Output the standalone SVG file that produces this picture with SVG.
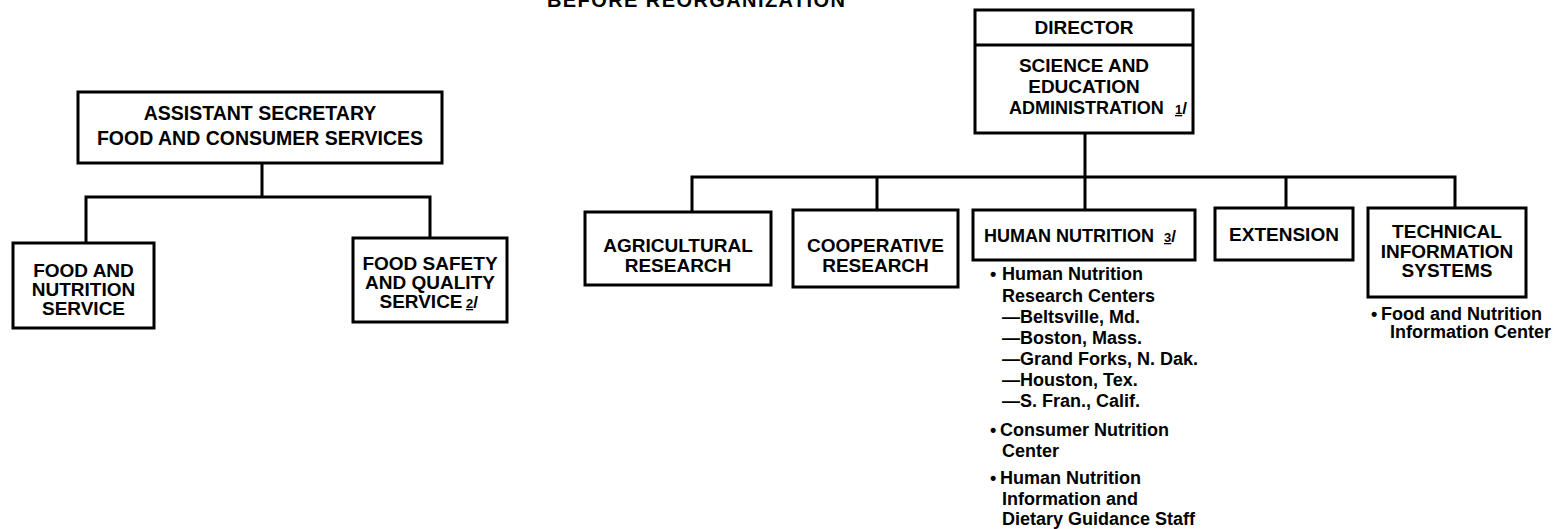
<svg xmlns="http://www.w3.org/2000/svg" width="1564" height="529" viewBox="0 0 1564 529">
<style>
.box{fill:#fff;stroke:#000;stroke-width:3}
.conn{fill:none;stroke:#000;stroke-width:3}
text{font-family:"Liberation Sans",Arial,sans-serif;font-weight:bold;fill:#000}
.lbl{font-size:19px;text-anchor:middle}
.big{font-size:19.5px;text-anchor:middle}
.st{font-size:18px}
.lst{font-size:18px}
.fn{font-size:13px}
</style>
<rect width="1564" height="529" fill="#fff"/>
<g id="title"><text x="547" y="7" font-size="20" textLength="298" lengthAdjust="spacing">BEFORE REORGANIZATION</text></g>
<g id="connectors">
<path class="conn" d="M262,163V197M86,243V197H430V238"/>
<path class="conn" d="M1085,133V210M692,212V177H1455V208M877,177V210M1286,177V208"/>
</g>
<g id="asst">
<rect class="box" x="78" y="92" width="364" height="71"/>
<text class="big" x="260" y="120">ASSISTANT SECRETARY</text>
<text class="big" x="260" y="145">FOOD AND CONSUMER SERVICES</text>
</g>
<g id="fns">
<rect class="box" x="13" y="243" width="141" height="85"/>
<text class="lbl" x="83.5" y="277">FOOD AND</text>
<text class="lbl" x="83.5" y="296">NUTRITION</text>
<text class="lbl" x="83.5" y="315">SERVICE</text>
</g>
<g id="fsqs">
<rect class="box" x="353" y="238" width="154" height="84"/>
<text class="lbl" x="430" y="270">FOOD SAFETY</text>
<text class="lbl" x="430" y="289">AND QUALITY</text>
<text class="lbl" x="421" y="308">SERVICE</text>
<text class="fn" x="466" y="308"><tspan text-decoration="underline">2</tspan><tspan font-size="17">/</tspan></text>
</g>
<g id="director">
<rect class="box" x="975" y="10" width="218" height="123"/>
<line class="conn" x1="975" y1="45" x2="1193" y2="45"/>
<text class="lbl" x="1084" y="34">DIRECTOR</text>
<text class="lbl" x="1084" y="72">SCIENCE AND</text>
<text class="lbl" x="1084" y="93">EDUCATION</text>
<text class="st" x="1009" y="114">ADMINISTRATION</text>
<text class="fn" x="1175" y="114"><tspan text-decoration="underline">1</tspan><tspan font-size="17">/</tspan></text>
</g>
<g id="agr">
<rect class="box" x="585" y="212" width="186" height="73"/>
<text class="lbl" x="678" y="252">AGRICULTURAL</text>
<text class="lbl" x="678" y="272">RESEARCH</text>
</g>
<g id="coop">
<rect class="box" x="793" y="210" width="165" height="77"/>
<text class="lbl" x="875.5" y="252">COOPERATIVE</text>
<text class="lbl" x="875.5" y="272">RESEARCH</text>
</g>
<g id="hn">
<rect class="box" x="973" y="210" width="222" height="50"/>
<text class="st" x="984" y="242">HUMAN NUTRITION</text>
<text class="fn" x="1164" y="242"><tspan text-decoration="underline">3</tspan><tspan font-size="17">/</tspan></text>
<g class="lst">
<text x="990" y="280">•</text>
<text x="1002" y="280">Human Nutrition</text>
<text x="1002" y="302">Research Centers</text>
<text x="1002" y="323">—Beltsville, Md.</text>
<text x="1002" y="344">—Boston, Mass.</text>
<text x="1002" y="365">—Grand Forks, N. Dak.</text>
<text x="1002" y="386">—Houston, Tex.</text>
<text x="1002" y="407">—S. Fran., Calif.</text>
<text x="990" y="436">•</text>
<text x="1000" y="436">Consumer Nutrition</text>
<text x="1002" y="457">Center</text>
<text x="990" y="484">•</text>
<text x="1000" y="484">Human Nutrition</text>
<text x="1002" y="505">Information and</text>
<text x="1002" y="525">Dietary Guidance Staff</text>
</g>
</g>
<g id="ext">
<rect class="box" x="1215" y="208" width="138" height="52"/>
<text class="lbl" x="1284" y="241">EXTENSION</text>
</g>
<g id="tis">
<rect class="box" x="1368" y="208" width="158" height="89"/>
<text class="lbl" x="1447" y="238">TECHNICAL</text>
<text class="lbl" x="1447" y="258">INFORMATION</text>
<text class="lbl" x="1447" y="277">SYSTEMS</text>
<g class="lst">
<text x="1371" y="320">•</text>
<text x="1381" y="320">Food and Nutrition</text>
<text x="1390" y="338">Information Center</text>
</g>
</g>
</svg>
